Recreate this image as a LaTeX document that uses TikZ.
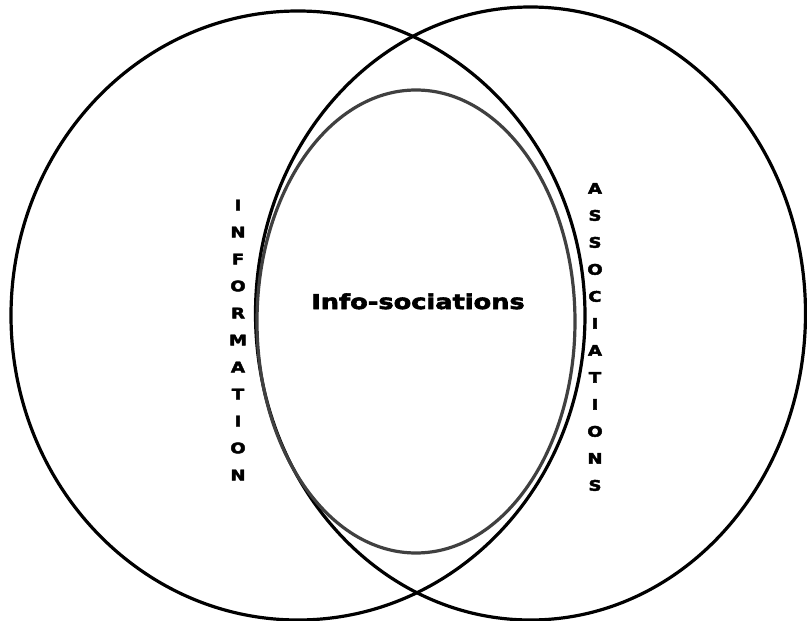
\documentclass[tikz,border=0pt]{standalone}
\usepackage{fontspec}
\newfontfamily\blackfont{DejaVu Sans}[FakeStretch=1.25,FakeBold=3]
\usetikzlibrary{positioning}

\begin{document}
\begin{tikzpicture}[x=1pt,y=-1pt,line width=3.2pt,
  word/.style={inner sep=0pt,font=\blackfont\bfseries\fontsize{20.5}{24}\selectfont},
  column/.style={inner sep=0pt,align=center,font=\blackfont\bfseries\fontsize{14.5}{27}\selectfont}]
\useasboundingbox (0,0) rectangle (807,621);
\draw (298,315.5) ellipse (287 and 304.5);
\draw (530.5,313.5) ellipse (275 and 306.5);
\draw[color=black!75] (416,321.5) ellipse (159 and 231.5);

\node[word,anchor=base] (mid) at (418,309) {Info-sociations};
\node[column] (info) at (238,340) {I\\N\\F\\O\\R\\M\\A\\T\\I\\O\\N};
\node[column] (assoc) at (595,337) {A\\S\\S\\O\\C\\I\\A\\T\\I\\O\\N\\S};
\end{tikzpicture}
\end{document}
